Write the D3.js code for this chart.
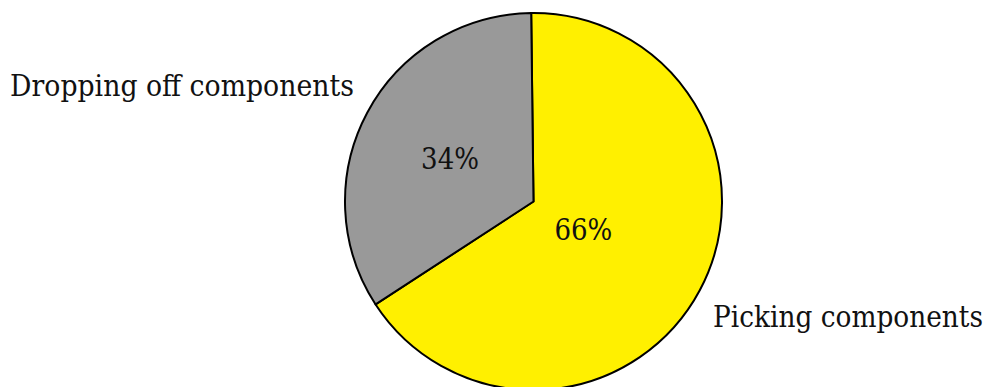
<!DOCTYPE html>
<html>
<head>
<meta charset="utf-8">
<script src="https://cdn.jsdelivr.net/npm/d3@7"></script>
<style>
  html, body { margin: 0; padding: 0; background: #fff; }
  svg text { font-family: "DejaVu Serif", "Times New Roman", serif; fill: #111; }
</style>
</head>
<body>
<svg id="chart"></svg>
<script>
// data
const labels = ["Picking components", "Dropping off components"]
const values = [66, 34]
const colors = ["#fff000", "#999999"]

// constants
const width = 989
const height = 387
const cx = 533.5
const cy = 201.5
const radius = 188.5
const startOffset = -0.7 * Math.PI / 180
const fontSize = 30

const svg = d3.select('svg#chart').attr('width', width).attr('height', height)
const g = svg.append('g').attr('transform', 'translate(' + cx + ',' + cy + ')')

const pie = d3.pie().sort(null).value(d => d)
  .startAngle(startOffset).endAngle(startOffset + 2 * Math.PI)
const arcs = pie(values)

const arc = d3.arc().innerRadius(0).outerRadius(radius)

g.selectAll('path').data(arcs).enter().append('path')
  .attr('d', arc)
  .attr('fill', (d, i) => colors[i])
  .attr('stroke', '#000')
  .attr('stroke-width', 2)
  .attr('stroke-linejoin', 'round')

const mid = d => (d.startAngle + d.endAngle) / 2
const polar = (a, r) => [r * Math.sin(a), -r * Math.cos(a)]

// squeeze a text horizontally to a target width (DejaVu is wider than CM)
function fitWidth(sel, target) {
  sel.each(function (d, i) {
    const w = this.getComputedTextLength()
    const t = typeof target === 'function' ? target(d, i) : target
    d3.select(this).attr('transform', 'scale(' + (t / w) + ',1)')
  })
}

// percent numbers inside slices
const nums = g.selectAll('g.num').data(arcs).enter().append('g')
  .attr('class', 'num')
  .attr('transform', d => {
    const p = polar(mid(d), radius * (d.value > 50 ? 0.3 : 0.49))
    return 'translate(' + (p[0] - (d.value > 50 ? 0 : 2)) + ',' + p[1] + ')'
  })
  .append('text')
  .attr('text-anchor', 'middle')
  .attr('font-size', fontSize)
  .attr('dy', '0.38em')
  .text(d => d.value + '%')
fitWidth(nums, 58)

// outer labels
const labelWidths = [270, 344]
const lbls = g.selectAll('g.lbl').data(arcs).enter().append('g')
  .attr('class', 'lbl')
  .attr('transform', d => {
    const p = polar(mid(d), radius * 1.08)
    return 'translate(' + p[0] + ',' + p[1] + ')'
  })
  .append('text')
  .attr('font-size', fontSize)
  .attr('text-anchor', d => Math.sin(mid(d)) > 0 ? 'start' : 'end')
  .attr('dy', d => -Math.cos(mid(d)) > 0 ? '0.98em' : '-0.32em')
  .text((d, i) => labels[i])
fitWidth(lbls, (d, i) => labelWidths[i])
</script>
</body>
</html>
